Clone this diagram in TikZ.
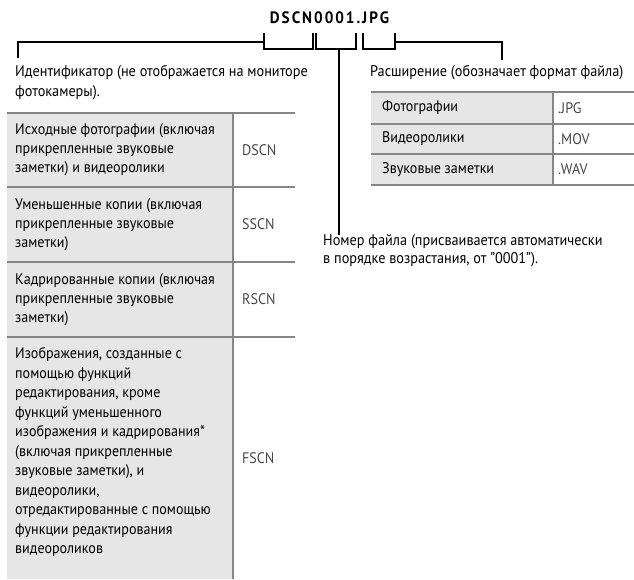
\documentclass[tikz,border=0pt]{standalone}
\usepackage{fontspec}
\setmainfont{PT Sans}[FakeStretch=0.92]
\usetikzlibrary{positioning}
\definecolor{cellgrey}{RGB}{230,230,230}
\definecolor{rulegrey}{RGB}{135,135,135}
\tikzset{
  fname/.style={font=\fontsize{16.5}{16}\selectfont\bfseries\addfontfeature{LetterSpace=12},inner sep=0pt},
  lbl/.style={font=\fontsize{15.5}{20}\selectfont,align=left,inner sep=0pt,anchor=west},
  celltxt/.style={font=\fontsize{15.3}{19}\selectfont,align=left,inner sep=0pt,anchor=west},
  codetxt/.style={celltxt,text=black!72},
  brk/.style={draw=black,line width=1.7pt},
  rowrule/.style={draw=rulegrey,line width=2.6pt},
  colrule/.style={draw=rulegrey,line width=2pt},
}
\begin{document}
\begin{tikzpicture}[x=1pt,y=-1pt]
  \useasboundingbox (0,0) rectangle (634,579);
  \node[fname] (fname) at (329.5,18) {DSCN0001.JPG};
  % brackets under the file name
  \coordinate (idtick) at (18,58);
  \coordinate (idjoin) at (264,42);
  \coordinate (numjoin) at (339,49);
  \coordinate (extjoin) at (395,42);
  \coordinate (exttick) at (502,60);
  \draw[brk] (264,33) -- (264,49) -- (313,49) -- (313,33);
  \draw[brk] (316,33) -- (316,49) -- (356,49) -- (356,33);
  \draw[brk] (363,33) -- (363,49) -- (395,49) -- (395,33);
  \node[lbl] (idlbl) at (15,83)
    {Идентификатор (не отображается на мониторе\\фотокамеры).};
  \node[lbl] (extlbl) at (370,73) {Расширение (обозначает формат файла)};
  \node[lbl,font=\fontsize{15.5}{18}\selectfont] (numlbl) at (323,251)
    {Номер файла (присваивается автоматически\\в порядке возрастания, от "0001").};
  \draw[brk] (idjoin) -| (idtick);
  \draw[brk] (extjoin) -| (exttick);
  \draw[brk] (numjoin) -- (numjoin |- numlbl.north);
  % identifier table
  \fill[cellgrey] (7,113) rectangle (233,579);
  \foreach \y in {113,187,262,337} \draw[rowrule] (7,\y) -- (295,\y);
  \draw[colrule] (233,113) -- (233,579);
  \node[celltxt] (idA) at (15,150)
    {Исходные фотографии (включая\\прикрепленные звуковые\\заметки) и видеоролики};
  \node[celltxt] (idB) at (15,224.5)
    {Уменьшенные копии (включая\\прикрепленные звуковые\\заметки)};
  \node[celltxt] (idC) at (15,299.5)
    {Кадрированные копии (включая\\прикрепленные звуковые\\заметки)};
  \node[celltxt,font=\fontsize{15.3}{19.5}\selectfont] (idD) at (15,452)
    {Изображения, созданные с\\помощью функций\\редактирования, кроме\\функций уменьшенного\\изображения и кадрирования*\\(включая прикрепленные\\звуковые заметки), и\\видеоролики,\\отредактированные с помощью\\функции редактирования\\видеороликов};
  \node[codetxt] (codeA) at (242,150) {DSCN};
  \node[codetxt] (codeB) at (242,224.5) {SSCN};
  \node[codetxt] (codeC) at (242,299.5) {RSCN};
  \node[codetxt] (codeD) at (242,458) {FSCN};
  % extension table
  \fill[cellgrey] (371,92) rectangle (553,185);
  \foreach \y in {92,124,154,185} \draw[rowrule] (371,\y) -- (634,\y);
  \draw[colrule] (553,92) -- (553,185);
  \node[celltxt] (extA) at (382,108) {Фотографии};
  \node[celltxt] (extB) at (382,139) {Видеоролики};
  \node[celltxt] (extC) at (382,169.5) {Звуковые заметки};
  \node[codetxt] (extcodeA) at (558,108) {.JPG};
  \node[codetxt] (extcodeB) at (558,139) {.MOV};
  \node[codetxt] (extcodeC) at (558,169.5) {.WAV};
\end{tikzpicture}
\end{document}
